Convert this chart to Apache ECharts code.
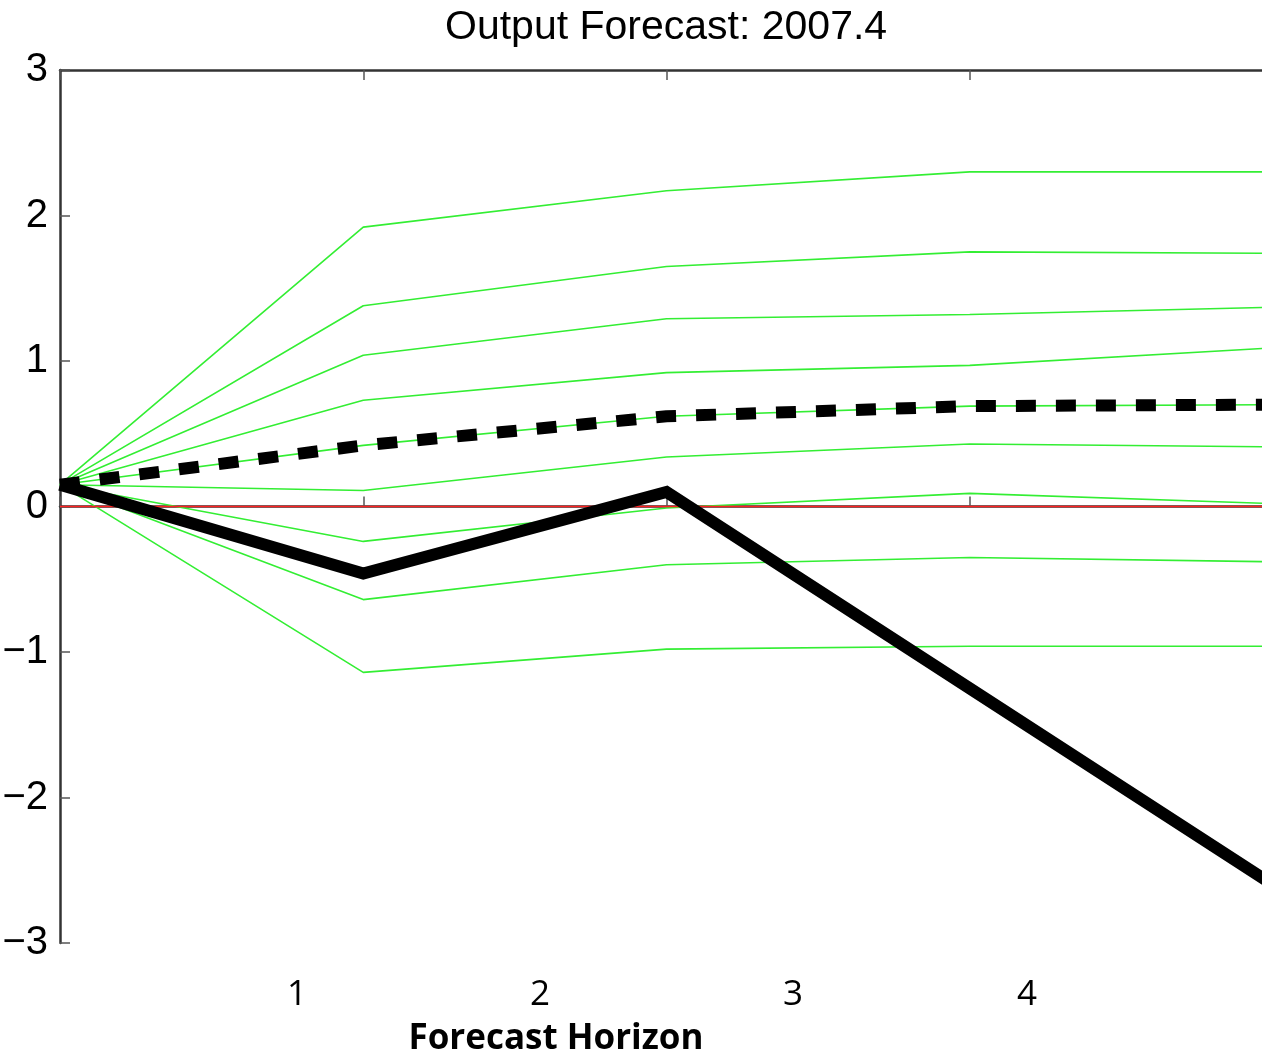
<!DOCTYPE html>
<html>
<head>
<meta charset="utf-8">
<script src="https://cdn.jsdelivr.net/npm/echarts@6/dist/echarts.min.js"></script>
<style>html,body{margin:0;padding:0;background:#fff;}#chart{width:1262px;height:1064px;}</style>
</head>
<body>
<div id="chart"></div>
<script>
// Forecast horizon (x positions of the MATLAB plot)
const horizon = [1, 2, 3, 4, 5];
// Green forecast paths (quantiles), top to bottom
const path1 = [0.15, 1.92, 2.17, 2.30, 2.30];
const path2 = [0.15, 1.38, 1.65, 1.75, 1.74];
const path3 = [0.15, 1.04, 1.29, 1.32, 1.37];
const path4 = [0.15, 0.73, 0.92, 0.97, 1.09];
const path5 = [0.15, 0.42, 0.62, 0.69, 0.70];
const path6 = [0.15, 0.11, 0.34, 0.43, 0.41];
const path7 = [0.15, -0.24, -0.01, 0.09, 0.02];
const path8 = [0.15, -0.64, -0.40, -0.35, -0.38];
const path9 = [0.15, -1.14, -0.98, -0.96, -0.96];
// Mean forecast (thick dashed)
const meanForecast = [0.15, 0.42, 0.62, 0.69, 0.70];
// Actual outcome (thick solid)
const actual = [0.15, -0.46, 0.10, -1.25, -2.60];
// Overlaid horizon labels and axis titles
const horizonLabels = ['1', '2', '3', '4'];
const titleText = 'Output Forecast: 2007.4';
const xTitle = 'Forecast Horizon';

const greenPaths = [path1, path2, path3, path4, path5, path6, path7, path8, path9];
const pair = arr => horizon.map((x, i) => [x, arr[i]]);

const series = greenPaths.map((p, i) => ({
  name: 'path' + (i + 1), type: 'line', data: pair(p), symbol: 'none',
  lineStyle: { color: '#33ee33', width: 1.6 }, z: 2, silent: true
}));
series.push({
  name: 'zero', type: 'line', data: [], symbol: 'none',
  markLine: { silent: true, symbol: 'none', label: { show: false },
    lineStyle: { color: '#ff2020', width: 1.3, type: 'solid' }, data: [{ yAxis: 0 }] },
  z: 3
});
series.push({
  name: 'mean', type: 'line', data: pair(meanForecast), symbol: 'none',
  lineStyle: { color: '#000', width: 12, type: [20, 20], cap: 'butt' }, z: 5
});
series.push({
  name: 'actual', type: 'line', data: pair(actual), symbol: 'none',
  lineStyle: { color: '#000', width: 12, join: 'miter', cap: 'butt' }, z: 6
});

const labelX = [297, 540, 793, 1027];
const graphics = horizonLabels.map((t, i) => ({
  type: 'text', x: labelX[i], y: 995,
  style: { text: t, font: '35px "Open Sans"', fill: '#000', align: 'center', verticalAlign: 'middle' }
}));
graphics.push({
  type: 'text', x: 556, y: 1039,
  style: { text: xTitle, font: 'bold 35px "Open Sans"', fill: '#000', align: 'center', verticalAlign: 'middle' }
});

const axisCommon = {
  type: 'value', min: 1, max: 5, interval: 1,
  axisLine: { show: true, lineStyle: { color: '#333', width: 2.5 } },
  axisTick: { show: true, inside: true, length: 10, lineStyle: { color: '#555', width: 1.5 } },
  axisLabel: { show: false }, splitLine: { show: false }
};

const chart = echarts.init(document.getElementById('chart'));
chart.setOption({
  animation: false,
  backgroundColor: '#fff',
  title: { text: titleText, left: 445, top: 7, padding: 0,
    textStyle: { fontFamily: 'Liberation Sans', fontSize: 41, fontWeight: 'normal', color: '#000' } },
  grid: { left: 60, right: -11, top: 70, bottom: 121, containLabel: false, outerBoundsMode: 'none' },
  xAxis: [
    Object.assign({}, axisCommon, { position: 'bottom' }),
    Object.assign({}, axisCommon, { position: 'top' })
  ],
  yAxis: {
    type: 'value', min: -3, max: 3, interval: 1,
    axisLine: { show: true, lineStyle: { color: '#333', width: 2.5 } },
    axisTick: { show: true, inside: true, length: 10, lineStyle: { color: '#555', width: 1.5 } },
    splitLine: { show: false },
    axisLabel: { show: true, margin: 12, color: '#000', fontFamily: 'Liberation Sans', fontSize: 40,
      padding: [4, 0, 0, 0],
      formatter: v => String(v).replace('-', '\u2212') }
  },
  series: series,
  graphic: graphics
});
</script>
</body>
</html>
